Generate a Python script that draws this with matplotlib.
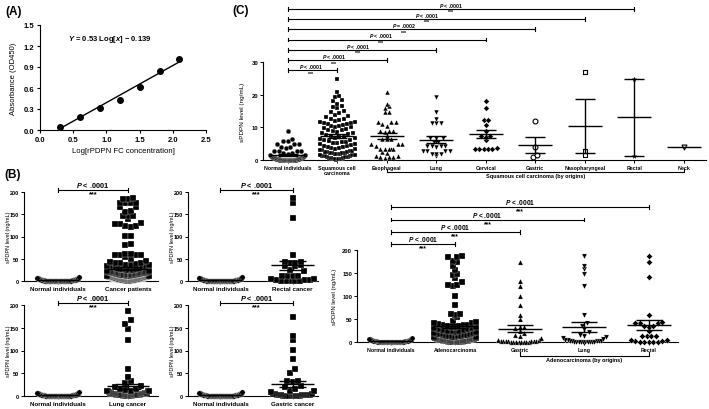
import numpy as np
import matplotlib.pyplot as plt

plt.rcParams['font.family'] = ['Liberation Sans', 'DejaVu Sans']
plt.rcParams['font.weight'] = 'bold'
plt.rcParams['mathtext.fontset'] = 'custom'
plt.rcParams['mathtext.it'] = 'Liberation Sans:italic:bold'
plt.rcParams['mathtext.rm'] = 'Liberation Sans:bold'
plt.rcParams['axes.linewidth'] = 0.8

# ---- (A) standard curve ----
log_conc = [0.3, 0.6, 0.9, 1.2, 1.5, 1.8, 2.1]
absorbance = [0.05, 0.18, 0.32, 0.43, 0.61, 0.84, 1.01]
fit_slope = 0.53
fit_icpt = -0.139

# ---- sPDPN levels (ng/mL) ----
normal = [8.9, 6.4, 5.9, 5.8, 4.9, 4.9, 4.8, 3.9, 3.9, 3.8, 2.9, 2.9, 2.8, 2.9,
          2.2, 2.0, 1.8, 1.6, 1.5, 1.3, 1.2, 1.1, 1.0, 0.9, 0.8, 0.8, 0.7, 0.6,
          0.6, 0.5, 0.5, 0.4, 0.4, 0.3, 0.3, 0.3, 0.2, 0.2, 0.2, 0.1, 0.1, 0.1,
          0.1, 0.1] + [0.0] * 16
squamous = [24.9, 21.0, 19.6, 19.2, 18.4, 18.1, 17.3, 16.6, 16.2, 15.9, 15.1,
            14.6, 14.3, 13.8, 13.4, 13.1, 12.7, 12.5, 12.2, 12.0, 11.8, 11.6,
            11.4, 11.2, 11.0, 10.9, 10.7, 10.5, 10.4, 10.2, 10.1, 9.8, 9.6, 9.3,
            9.1, 8.9, 8.6, 8.4, 8.2, 7.9, 7.7, 7.5, 7.2, 7.0, 6.8, 6.6, 6.4, 6.2,
            6.0, 5.8, 5.6, 5.5, 5.3, 5.1, 4.9, 4.8, 4.6, 4.4, 4.3, 4.1, 3.9, 3.8,
            3.6, 3.5, 3.3, 3.2, 3.0, 2.9, 2.8, 2.6, 2.5, 2.4, 2.3, 2.2, 2.1, 2.0,
            1.9, 1.8, 1.7, 1.6, 1.5, 1.4, 1.3, 1.2, 1.1, 1.0, 0.9, 0.8, 0.7, 0.6,
            0.5, 0.4, 0.3, 0.2, 0.1]
esophageal = [21.0, 17.2, 16.7, 15.8, 14.6, 14.6, 11.8, 11.8, 11.6, 11.0, 10.5,
              9.0, 9.0, 9.0, 8.5, 7.4, 6.4, 6.4, 6.3, 4.9, 4.9, 4.8, 4.2, 3.4,
              3.4, 3.4, 3.3, 3.4, 2.4, 2.3, 1.3, 1.2, 0.8, 0.8, 0.8, 0.7]
lung_scc = [19.2, 14.6, 12.6, 11.4, 11.4, 11.4, 6.8, 6.7, 6.6, 5.5, 5.4, 4.3,
            4.2, 4.2, 4.1, 4.2, 2.9, 2.9, 2.8, 2.9, 1.8, 1.8, 1.7, 1.1]
cervical = [18.2, 15.8, 12.3, 12.3, 10.6, 9.0, 7.4, 7.3, 7.2, 6.0, 3.8, 3.4,
            3.4, 3.4, 3.4, 3.4]
gastric_scc = [11.9, 3.9, 1.5, 1.0]
nasopharyngeal = [27.1, 2.7, 1.5]
rectal_scc = [24.9, 1.3]
neck = [4.0]

adenocarcinoma = [186, 185, 184, 175, 176, 166, 157, 146, 147, 139, 130, 122,
                  123, 124, 101, 81, 60, 59, 60, 54,
                  45, 43, 41, 41, 40, 38, 37, 36, 35, 34, 33, 33, 32, 31, 30,
                  29, 28, 27, 26, 25, 24, 23, 22, 21, 20, 19, 18, 18, 17, 16,
                  15, 15, 14, 13, 12, 12, 11, 11, 10, 10, 9, 9, 8, 8, 8, 7, 7,
                  7, 6, 6, 6, 5, 5, 5, 5, 4, 4, 4, 4, 3, 3, 3, 3, 3, 2, 2, 2, 2,
                  2, 2, 1, 1, 1, 1, 1, 1, 1, 1, 0, 0, 0, 0, 0, 0, 0, 0, 0, 0]
gastric_adeno = [173, 132, 122, 101, 81, 59, 50, 33, 32, 30, 23, 20, 15, 12, 8,
                 5, 4, 3, 3, 2, 2, 1, 1, 1, 0, 0, 1, 2, 0, 1, 3, 2]
lung_adeno = [186, 166, 158, 148, 122, 59, 41, 34, 29, 21, 16, 12, 10, 8, 6, 5,
              4, 3, 3, 2, 2, 1, 1, 1, 0, 0, 0, 0, 1, 0, 2, 0]
rectal_adeno = [186, 175, 141, 59, 43, 42, 41, 41, 35, 34, 33, 23, 12, 12, 12,
                12, 5, 4, 3, 2, 1, 1, 0, 0, 0]
other_cancer = [175, 175, 166, 156, 145, 128, 128, 102, 83, 58, 58, 58, 49]

cancer_patients = squamous + adenocarcinoma + other_cancer
rectal_cancer = rectal_scc + rectal_adeno
lung_cancer = lung_scc + lung_adeno
gastric_cancer = gastric_scc + gastric_adeno

scc_labels = ['Normal individuals', 'Squamous cell\ncarcinoma', 'Esophageal',
              'Lung', 'Cervical', 'Gastric', 'Nasopharyngeal', 'Rectal', 'Neck']
scc_pvals = ['P < .0001', 'P < .0001', 'P = .0002', 'P < .0001', 'P < .0001',
             'P < .0001', 'P < .0001']
adeno_labels = ['Normal individuals', 'Adenocarcinoma', 'Gastric', 'Lung', 'Rectal']

W, H = 709, 410
fig = plt.figure(figsize=(W / 100, H / 100), dpi=100)


def axes_px(left, top, right, bottom):
    return fig.add_axes([left / W, 1 - bottom / H, (right - left) / W, (bottom - top) / H])


def pfmt(s):
    return r'$\it{P}$' + s[1:]


def swarm_x(vals, center, binh, dx, maxw):
    # spread points of similar value into a horizontal row
    v = np.sort(np.asarray(vals, float))
    x = np.full(len(v), float(center))
    bins = np.floor(v / binh + 1e-9).astype(int)
    for b in np.unique(bins):
        idx = np.where(bins == b)[0]
        n = len(idx)
        if n > 1:
            w = min((n - 1) * dx, maxw)
            pos = np.linspace(-w / 2, w / 2, n)
            x[idx] = center + pos[np.argsort(np.abs(pos), kind='stable')]
    return x, v


def column(ax, vals, center, marker, sw, fc='k', ec='white', ms=3.0, elw=0.25):
    x, v = swarm_x(vals, center, *sw)
    ax.scatter(x, v, s=ms ** 2, marker=marker, facecolor=fc, edgecolor=ec,
               linewidths=elw, clip_on=False, zorder=3)


def mean_sem(ax, vals, center, hm, hs, lw=1.0):
    vals = np.asarray(vals, float)
    m = vals.mean()
    kw = dict(color='k', lw=lw, zorder=4, clip_on=False, solid_capstyle='butt')
    ax.plot([center - hm, center + hm], [m, m], **kw)
    if len(vals) > 1:
        s = vals.std(ddof=1) / np.sqrt(len(vals))
        ax.plot([center - hs, center + hs], [m + s, m + s], **kw)
        ax.plot([center - hs, center + hs], [m - s, m - s], **kw)
        ax.plot([center, center], [m - s, m + s], **kw)


def bracket(ax, x0, x1, y, cap, label, fs, tx=None, lw=0.8, up=0.6):
    kw = dict(color='k', lw=lw, clip_on=False)
    ax.plot([x0, x1], [y, y], **kw)
    ax.plot([x0, x0], [y - cap, y + cap], **kw)
    ax.plot([x1, x1], [y - cap, y + cap], **kw)
    xm = (x0 + x1) / 2 if tx is None else tx
    ax.annotate(pfmt(label), (xm, y), xytext=(0, up), textcoords='offset points',
                ha='center', va='bottom', fontsize=fs, annotation_clip=False)
    ax.annotate('***', (xm, y), xytext=(0, -0.3), textcoords='offset points',
                ha='center', va='top', fontsize=fs, annotation_clip=False)


def group_bracket(ax, x0, x1, y, cap, text, fs):
    kw = dict(color='k', lw=0.8, clip_on=False)
    ax.plot([x0, x0, x1, x1], [y + cap, y, y, y + cap], **kw)
    ax.annotate(text, ((x0 + x1) / 2, y), xytext=(0, -1), textcoords='offset points',
                ha='center', va='top', fontsize=fs, annotation_clip=False)


def style(ax, xlim, ylim, yticks, ybound, cats, fx, fy):
    ax.set_xlim(xlim)
    ax.set_ylim(ylim)
    for s in ['top', 'right']:
        ax.spines[s].set_visible(False)
    ax.spines['left'].set_bounds(*ybound)
    ax.set_yticks(yticks)
    ax.set_xticks(range(len(cats)))
    ax.set_xticklabels(cats, fontsize=fx, linespacing=1.0)
    ax.tick_params(axis='both', length=2, width=0.7, pad=1.5)
    ax.tick_params(axis='y', labelsize=fy)
    ax.patch.set_visible(False)


# ---------------- (A) ----------------
axA = axes_px(40, 26, 206, 131)
axA.scatter(log_conc, absorbance, s=16, color='k', zorder=3, clip_on=False)
xf = np.array([log_conc[0], log_conc[-1]])
axA.plot(xf, fit_slope * xf + fit_icpt, color='k', lw=1.0)
axA.set_xlim(0, 2.5)
axA.set_ylim(0, 1.5)
axA.set_xticks(np.arange(0, 2.51, 0.5))
axA.set_yticks(np.arange(0, 1.51, 0.3))
axA.xaxis.set_major_formatter('{x:.1f}')
axA.yaxis.set_major_formatter('{x:.1f}')
for s in ['top', 'right']:
    axA.spines[s].set_visible(False)
axA.tick_params(length=2.5, width=0.8, labelsize=5.5, pad=1.5)
axA.set_xlabel('Log[rPDPN FC concentration]', fontsize=5.6, labelpad=3)
axA.set_ylabel('Absorbance (OD450)', fontsize=5.5)
axA.yaxis.set_label_coords(-0.14, 0.5)
axA.text(1.05, 1.31, r'$\it{Y}$ = 0.53 Log[$\it{x}$] − 0.139', ha='center', va='center',
         fontsize=5.5)

# ---------------- (B) ----------------
sw_b = (12.0, 0.075, 0.6)
b_panels = [
    ((24, 193, 158, 282), (-0.49, 1.43), 'Cancer patients', cancer_patients),
    ((188, 193, 318, 282), (-0.45, 1.35), 'Rectal cancer', rectal_cancer),
    ((24, 306, 158, 397), (-0.49, 1.43), 'Lung cancer', lung_cancer),
    ((188, 306, 318, 397), (-0.45, 1.35), 'Gastric cancer', gastric_cancer),
]
for box, xl, name, vals in b_panels:
    ax = axes_px(*box)
    column(ax, normal, 0, 'o', sw_b, ms=3.8, elw=0.2)
    column(ax, vals, 1, 's', sw_b, ms=3.8, elw=0.2)
    mean_sem(ax, normal, 0, 0.3, 0.19)
    mean_sem(ax, vals, 1, 0.3, 0.19)
    style(ax, xl, (0, 200), [0, 50, 100, 150, 200], (0, 200),
          ['Normal individuals', name], 4.5, 4.0)
    ax.set_ylabel('sPDPN level (ng/mL)', fontsize=4.0)
    ax.yaxis.set_label_coords(-13 / (box[2] - box[0]), 0.5)
    bracket(ax, 0, 1, 204, 4.5, 'P < .0001', 5.3)

# ---------------- (C) squamous ----------------
axC = axes_px(263, 4.5, 706, 161)
sw_c = (1.7, 0.09, 0.7)
scc_groups = [
    (normal, 'o', 'k', 'white'),
    (squamous, 's', 'k', 'white'),
    (esophageal, '^', 'k', 'white'),
    (lung_scc, 'v', 'k', 'white'),
    (cervical, 'D', 'k', 'white'),
    (gastric_scc, 'o', 'white', 'k'),
    (nasopharyngeal, 's', 'white', 'k'),
    (rectal_scc, '*', 'k', 'k'),
    (neck, 'v', 'white', 'k'),
]
for i, (vals, mk, fc, ec) in enumerate(scc_groups):
    ms = 3.5 if mk != 'D' else 2.9
    column(axC, vals, i, mk, sw_c, fc=fc, ec=ec, ms=ms, elw=0.2 if fc == 'k' else 0.8)
    mean_sem(axC, vals, i, 0.34, 0.2)
style(axC, (-0.5, 8.45), (0, 48), [0, 10, 20, 30], (0, 30), scc_labels, 3.8, 4.2)
axC.set_ylabel('sPDPN level (ng/mL)', fontsize=4.6)
axC.yaxis.set_label_coords(-0.041, 0.313)
for i, (tgt, pv) in enumerate(zip(range(7, 0, -1), scc_pvals)):
    bracket(axC, 0, tgt, 46.4 - i * 3.15, 0.6, pv, 3.7, tx=tgt / 2 * 0.94, up=0.1)
group_bracket(axC, 2, 8, -3.7, 0.9, 'Squamous cell carcinoma (by origins)', 4.0)

# ---------------- (C) adenocarcinoma ----------------
axD = axes_px(357, 205, 678, 343)
sw_d = (11.0, 0.07, 0.66)
adeno_groups = [
    (normal, 'o'),
    (adenocarcinoma, 's'),
    (gastric_adeno, '^'),
    (lung_adeno, 'v'),
    (rectal_adeno, 'D'),
]
for i, (vals, mk) in enumerate(adeno_groups):
    ms = 3.7 if mk != 'D' else 3.1
    column(axD, vals, i, mk, sw_d, ms=ms, elw=0.2)
    mean_sem(axD, vals, i, 0.34, 0.2)
style(axD, (-0.52, 4.45), (0, 300), [0, 50, 100, 150, 200], (0, 200), adeno_labels, 3.8, 4.2)
axD.set_ylabel('sPDPN level (ng/mL)', fontsize=4.3)
axD.yaxis.set_label_coords(-0.062, 0.333)
for i, tgt in enumerate(range(4, 0, -1)):
    bracket(axD, 0, tgt, 293 - i * 26.7, 4.3, 'P < .0001', 4.8)
group_bracket(axD, 2, 4, -30, 8, 'Adenocarcinoma (by origins)', 4.0)

# panel letters
fig.text(5 / W, 1 - 12 / H, '(A)', fontsize=8.5, va='center')
fig.text(4 / W, 1 - 175 / H, '(B)', fontsize=8.5, va='center')
fig.text(232 / W, 1 - 11 / H, '(C)', fontsize=8.5, va='center')

fig.savefig('out.png', dpi=100, facecolor='white')
